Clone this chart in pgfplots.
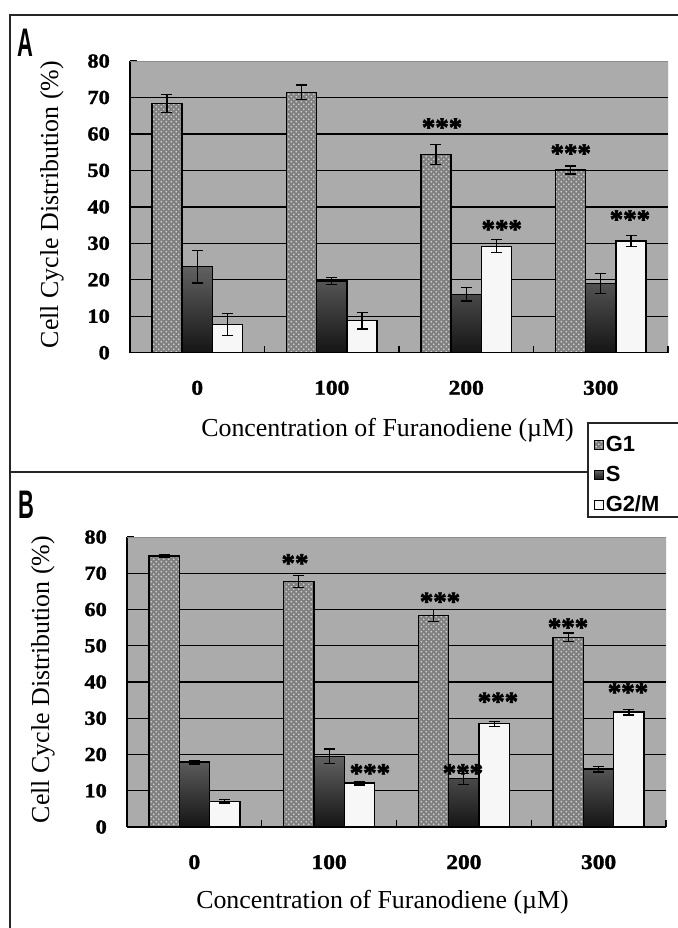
\documentclass[border=0pt]{standalone}
\usepackage{fontspec}
\setmainfont{Liberation Serif}
\newfontfamily\condsans[FakeStretch=0.55]{Liberation Sans}
\newfontfamily\legsans{Liberation Sans}
\newfontfamily\tickserif[FakeStretch=1.12,FakeBold=1.5]{Liberation Serif}
\newfontfamily\starserif[FakeBold=2]{Liberation Serif}
\usepackage{pgfplots}
\pgfplotsset{compat=1.18}
\usetikzlibrary{patterns}

\pgfdeclarepatternformonly{g1dots}{\pgfqpoint{-1bp}{-1bp}}{\pgfqpoint{6bp}{6bp}}{\pgfqpoint{5bp}{5bp}}{%
  \pgfpathcircle{\pgfqpoint{1.25bp}{1.25bp}}{0.8bp}%
  \pgfpathcircle{\pgfqpoint{3.75bp}{3.75bp}}{0.8bp}%
  \pgfusepath{fill}}

\tikzset{stars/.style={font=\starserif\bfseries\fontsize{27}{27}\selectfont, inner sep=0pt, anchor=center, yshift=-4bp}}

\pgfplotsset{
  panel/.style={
    scale only axis,
    xmin=-0.5, xmax=3.5, ymin=0, ymax=80,
    ybar, bar width=0.225,
    axis x line*=bottom, axis y line*=left,
    axis line style={black, line width=1.3bp},
    axis background/.style={fill=black!33},
    /pgf/number format/assume math mode=true,
    xtick={-0.5,0.5,1.5,2.5,3.5}, xticklabels={{},{},{},{},{}},
    extra x ticks={0,1,2,3}, extra x tick labels={0,100,200,300},
    extra x tick style={tick style={draw=none},
      xticklabel style={anchor=base, yshift=-42bp, font=\tickserif\bfseries\fontsize{21}{21}\selectfont}},
    ytick={0,10,...,80},
    yticklabel style={anchor=east, inner sep=0pt, xshift=-20bp, font=\tickserif\bfseries\fontsize{20}{20}\selectfont},
    extra y ticks={10,20,...,70}, extra y tick labels={},
    extra y tick style={ymajorgrids=true, major grid style={black, line width=1.3bp}},
    tick align=inside, major tick length=7bp,
    tick style={black, line width=1.2bp},
    label style={font=\fontsize{26}{26}\selectfont},
    error bars/y dir=both, error bars/y explicit,
    error bars/error bar style={black, line width=1.2bp},
    error bars/error mark options={rotate=90, black, line width=1.2bp, mark size=5.5bp},
  },
  g1/.style={draw=black, line width=1.3bp, fill=black!50,
    postaction={pattern=g1dots, pattern color=black!15}, bar shift=-0.225},
  sp/.style={draw=black, line width=1.3bp, top color=black!62, bottom color=black!92, bar shift=0},
  gm/.style={draw=black, line width=1.3bp, fill=black!3, bar shift=0.225},
}

\begin{document}
\begin{tikzpicture}
\path[use as bounding box] (0,0) rectangle (678bp,-928bp);
\draw[black!85, line width=2bp] (678bp,-15bp) -- (10bp,-15bp) -- (10bp,-930bp);
\draw[black!85, line width=2bp] (10bp,-472bp) -- (588bp,-472bp);
\draw[black!85, line width=1.5bp, fill=white] (588bp,-423bp) rectangle (700bp,-517bp);
\node[font=\condsans\bfseries\fontsize{40}{40}\selectfont, inner sep=0pt] at (25.5bp,-42.5bp) {A};
\node[font=\condsans\bfseries\fontsize{40}{40}\selectfont, inner sep=0pt] at (26bp,-504.5bp) {B};

% Panel A
\begin{axis}[panel, at={(130bp,-352.7bp)}, anchor=south west,
  width=538bp, height=291.7bp,
  ylabel={Cell Cycle Distribution (\%)},
  ylabel style={at={(axis description cs:-0.145,0.508)}, anchor=center},
  xlabel={Concentration of Furanodiene (µM)},
  xlabel style={at={(axis description cs:0.4786,-0.287)}, anchor=base},
  legend style={at={(axis description cs:0.862,-0.2753)}, anchor=north west,
    draw=none, fill=none, inner sep=0pt, row sep=6bp,
    font=\legsans\bfseries\fontsize{22}{22}\selectfont,
    nodes={text height=16bp, text depth=4bp, inner sep=2bp}},
  legend cell align=left,
  legend image code/.code={\draw[#1, line width=0.8bp] (0bp,-4.5bp) rectangle (9bp,4.5bp);},
]
\addplot[g1] coordinates {(0,68.4) +- (0,2.5) (1,71.4) +- (0,2.0) (2,54.4) +- (0,2.8) (3,50.1) +- (0,1.1)};
\addplot[sp] coordinates {(0,23.6) +- (0,4.5) (1,19.7) +- (0,1.0) (2,16.0) +- (0,1.8) (3,19.0) +- (0,2.8)};
\addplot[gm] coordinates {(0,7.8) +- (0,3.0) (1,8.8) +- (0,2.3) (2,29.2) +- (0,1.8) (3,30.6) +- (0,1.5)};
\legend{G1,S,G2/M}
\draw[black!45, line width=1bp] (rel axis cs:0,1) -- (rel axis cs:1,1) -- (rel axis cs:1,0);
\node[stars] at (axis cs:1.82,62.9) {***};
\node[stars] at (axis cs:2.777,55.8) {***};
\node[stars] at (axis cs:2.264,35.0) {***};
\node[stars] at (axis cs:3.217,37.7) {***};
\end{axis}

% Panel B
\begin{axis}[panel, at={(127bp,-827bp)}, anchor=south west,
  width=539bp, height=290bp,
  ylabel={Cell Cycle Distribution (\%)},
  ylabel style={at={(axis description cs:-0.156,0.508)}, anchor=center},
  xlabel={Concentration of Furanodiene (µM)},
  xlabel style={at={(axis description cs:0.474,-0.281)}, anchor=base},
]
\addplot[g1] coordinates {(0,74.8) +- (0,0.4) (1,67.7) +- (0,1.7) (2,58.3) +- (0,1.7) (3,52.3) +- (0,1.2)};
\addplot[sp] coordinates {(0,17.9) +- (0,0.5) (1,19.5) +- (0,2.0) (2,13.3) +- (0,1.5) (3,16.0) +- (0,0.8)};
\addplot[gm] coordinates {(0,7.1) +- (0,0.5) (1,12.1) +- (0,0.5) (2,28.5) +- (0,0.7) (3,31.7) +- (0,0.8)};
\draw[black!45, line width=1bp] (rel axis cs:0,1) -- (rel axis cs:1,1) -- (rel axis cs:1,0);
\node[stars] at (axis cs:0.747,73.9) {**};
\node[stars] at (axis cs:1.823,63.3) {***};
\node[stars] at (axis cs:2.773,56.2) {***};
\node[stars] at (axis cs:2.253,35.7) {***};
\node[stars] at (axis cs:3.218,38.3) {***};
\node[stars] at (axis cs:1.303,16.0) {***};
\node[stars] at (axis cs:1.993,16.0) {***};
\end{axis}
\end{tikzpicture}
\end{document}
